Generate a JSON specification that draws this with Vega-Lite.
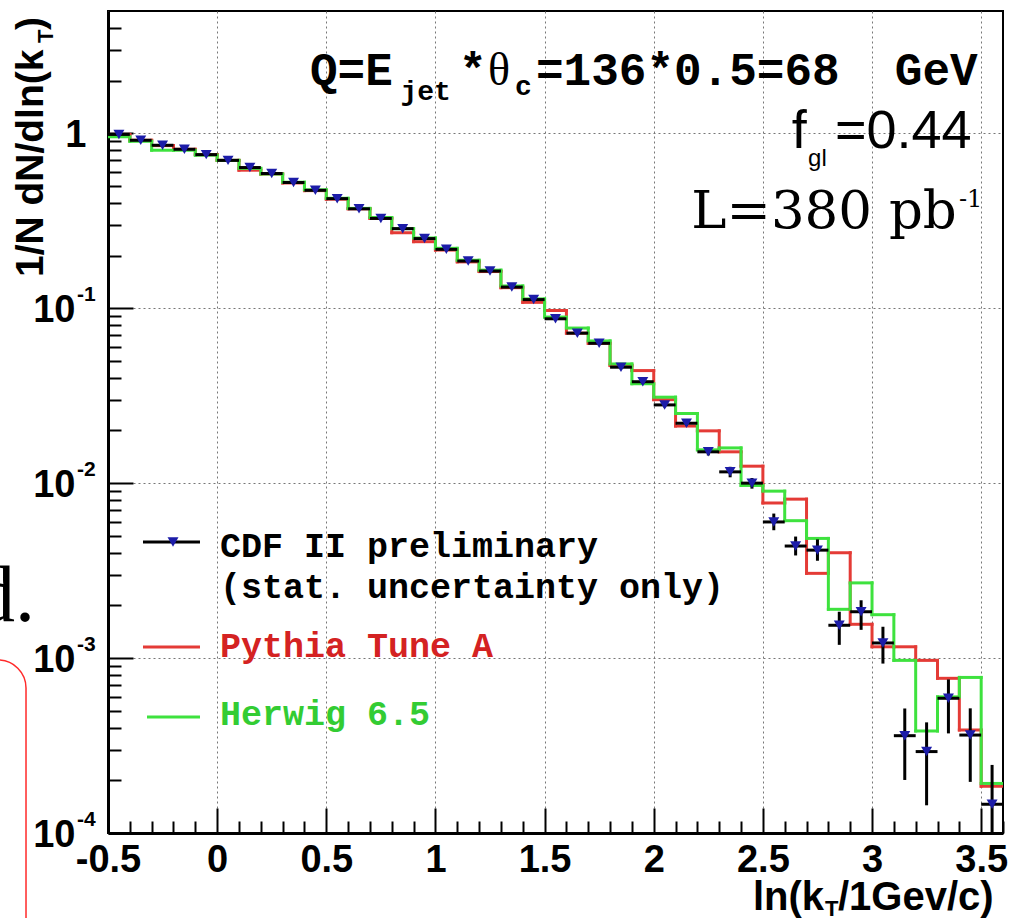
{
  "$schema": "https://vega.github.io/schema/vega-lite/v6.json",
  "width": 895,
  "height": 822,
  "autosize": "none",
  "padding": {"left": 108, "top": 11, "right": 8, "bottom": 85},
  "background": "white",
  "config": {"view": {"stroke": "black", "strokeWidth": 2}},
  "resolve": {"axis": {"x": "independent", "y": "independent"}},
  "data": {"values": [
    {"x":-0.45,"lo":-0.5,"hi":-0.4,"d":0.985,"dlo":0.975,"dhi":0.995,"py":0.985,"hw":0.955},
    {"x":-0.35,"lo":-0.4,"hi":-0.3,"d":0.912,"dlo":0.903,"dhi":0.921,"py":0.912,"hw":0.9},
    {"x":-0.25,"lo":-0.3,"hi":-0.2,"d":0.854,"dlo":0.845,"dhi":0.863,"py":0.85,"hw":0.8},
    {"x":-0.15,"lo":-0.2,"hi":-0.1,"d":0.81,"dlo":0.802,"dhi":0.818,"py":0.81,"hw":0.8},
    {"x":-0.05,"lo":-0.1,"hi":0,"d":0.755,"dlo":0.747,"dhi":0.763,"py":0.755,"hw":0.75},
    {"x":0.05,"lo":0,"hi":0.1,"d":0.7,"dlo":0.693,"dhi":0.707,"py":0.7,"hw":0.7},
    {"x":0.15,"lo":0.1,"hi":0.2,"d":0.637,"dlo":0.63,"dhi":0.644,"py":0.615,"hw":0.63},
    {"x":0.25,"lo":0.2,"hi":0.3,"d":0.589,"dlo":0.583,"dhi":0.595,"py":0.585,"hw":0.585},
    {"x":0.35,"lo":0.3,"hi":0.4,"d":0.523,"dlo":0.517,"dhi":0.529,"py":0.52,"hw":0.525},
    {"x":0.45,"lo":0.4,"hi":0.5,"d":0.472,"dlo":0.467,"dhi":0.477,"py":0.47,"hw":0.475},
    {"x":0.55,"lo":0.5,"hi":0.6,"d":0.423,"dlo":0.418,"dhi":0.428,"py":0.42,"hw":0.425},
    {"x":0.65,"lo":0.6,"hi":0.7,"d":0.37,"dlo":0.366,"dhi":0.374,"py":0.37,"hw":0.372},
    {"x":0.75,"lo":0.7,"hi":0.8,"d":0.326,"dlo":0.322,"dhi":0.33,"py":0.326,"hw":0.33},
    {"x":0.85,"lo":0.8,"hi":0.9,"d":0.285,"dlo":0.281,"dhi":0.289,"py":0.27,"hw":0.285},
    {"x":0.95,"lo":0.9,"hi":1.0,"d":0.25,"dlo":0.246,"dhi":0.254,"py":0.24,"hw":0.252},
    {"x":1.05,"lo":1.0,"hi":1.1,"d":0.217,"dlo":0.213,"dhi":0.221,"py":0.215,"hw":0.22},
    {"x":1.15,"lo":1.1,"hi":1.2,"d":0.186,"dlo":0.183,"dhi":0.189,"py":0.184,"hw":0.188},
    {"x":1.25,"lo":1.2,"hi":1.3,"d":0.163,"dlo":0.16,"dhi":0.166,"py":0.162,"hw":0.165},
    {"x":1.35,"lo":1.3,"hi":1.4,"d":0.132,"dlo":0.13,"dhi":0.134,"py":0.131,"hw":0.134},
    {"x":1.45,"lo":1.4,"hi":1.5,"d":0.112,"dlo":0.11,"dhi":0.114,"py":0.108,"hw":0.113},
    {"x":1.55,"lo":1.5,"hi":1.6,"d":0.087,"dlo":0.085,"dhi":0.089,"py":0.097,"hw":0.089},
    {"x":1.65,"lo":1.6,"hi":1.7,"d":0.072,"dlo":0.0705,"dhi":0.0735,"py":0.072,"hw":0.077},
    {"x":1.75,"lo":1.7,"hi":1.8,"d":0.063,"dlo":0.0615,"dhi":0.0645,"py":0.063,"hw":0.065},
    {"x":1.85,"lo":1.8,"hi":1.9,"d":0.046,"dlo":0.0448,"dhi":0.0472,"py":0.047,"hw":0.048},
    {"x":1.95,"lo":1.9,"hi":2.0,"d":0.038,"dlo":0.0369,"dhi":0.0391,"py":0.044,"hw":0.037},
    {"x":2.05,"lo":2.0,"hi":2.1,"d":0.028,"dlo":0.0271,"dhi":0.0289,"py":0.03,"hw":0.031},
    {"x":2.15,"lo":2.1,"hi":2.2,"d":0.022,"dlo":0.0212,"dhi":0.0228,"py":0.0212,"hw":0.025},
    {"x":2.25,"lo":2.2,"hi":2.3,"d":0.0151,"dlo":0.0144,"dhi":0.0158,"py":0.0199,"hw":0.0155},
    {"x":2.35,"lo":2.3,"hi":2.4,"d":0.0116,"dlo":0.0108,"dhi":0.0124,"py":0.0151,"hw":0.0159},
    {"x":2.45,"lo":2.4,"hi":2.5,"d":0.01,"dlo":0.0093,"dhi":0.0107,"py":0.0125,"hw":0.0097},
    {"x":2.55,"lo":2.5,"hi":2.6,"d":0.006,"dlo":0.00538,"dhi":0.0067,"py":0.0077,"hw":0.009},
    {"x":2.65,"lo":2.6,"hi":2.7,"d":0.00437,"dlo":0.00386,"dhi":0.00495,"py":0.0081,"hw":0.0061},
    {"x":2.75,"lo":2.7,"hi":2.8,"d":0.00414,"dlo":0.0036,"dhi":0.00477,"py":0.00305,"hw":0.00483},
    {"x":2.85,"lo":2.8,"hi":2.9,"d":0.00154,"dlo":0.00119,"dhi":0.00184,"py":0.004,"hw":0.0019},
    {"x":2.95,"lo":2.9,"hi":3.0,"d":0.00184,"dlo":0.00145,"dhi":0.00214,"py":0.00156,"hw":0.00269},
    {"x":3.05,"lo":3.0,"hi":3.1,"d":0.00122,"dlo":0.00093,"dhi":0.00151,"py":0.00116,"hw":0.00177},
    {"x":3.15,"lo":3.1,"hi":3.2,"d":0.00036,"dlo":0.000201,"dhi":0.000515,"py":0.00116,"hw":0.00097},
    {"x":3.25,"lo":3.2,"hi":3.3,"d":0.000292,"dlo":0.000144,"dhi":0.000429,"py":0.00097,"hw":0.000383},
    {"x":3.35,"lo":3.3,"hi":3.4,"d":0.000589,"dlo":0.000371,"dhi":0.000755,"py":0.000766,"hw":0.0006},
    {"x":3.45,"lo":3.4,"hi":3.5,"d":0.000363,"dlo":0.000196,"dhi":0.000516,"py":0.000388,"hw":0.000775},
    {"x":3.55,"lo":3.5,"hi":3.6,"d":0.000146,"dlo":0.00006,"dhi":0.000245,"py":0.000185,"hw":0.000192}
  ]},
  "layer": [
    {
      "mark": {"type": "rule", "color": "#e43b36", "strokeWidth": 3, "strokeCap": "square", "clip": true},
      "encoding": {
        "x": {"field": "lo", "type": "quantitative", "title": null,
          "scale": {"domain": [-0.5, 3.6], "nice": false, "zero": false},
          "axis": {
            "orient": "bottom",
            "values": [-0.5, 0, 0.5, 1, 1.5, 2, 2.5, 3, 3.5],
            "grid": true, "gridDash": [2, 3], "gridColor": "#777", "gridWidth": 1,
            "tickSize": -25, "tickColor": "black", "tickWidth": 2,
            "domainColor": "black", "domainWidth": 3,
            "labelExpr": "replace(format(datum.value, '~g'), '\u2212', '-')",
            "labelFont": "Liberation Sans", "labelFontWeight": "bold", "labelFontSize": 38, "labelColor": "black",
            "labelPadding": 33, "labelFlush": false, "labelOverlap": false, "labelBound": false
          }
        },
        "x2": {"field": "hi"},
        "y": {"field": "py", "type": "quantitative", "title": null,
          "scale": {"type": "log", "domain": [0.0001, 5], "nice": false},
          "axis": {
            "orient": "left",
            "values": [0.0001, 0.001, 0.01, 0.1, 1],
            "grid": true, "gridDash": [2, 3], "gridColor": "#777", "gridWidth": 1,
            "tickSize": -25, "tickColor": "black", "tickWidth": 2,
            "domainColor": "black", "domainWidth": 3,
            "labelExpr": "datum.value > 0.5 ? '1' : '10'",
            "labelFont": "Liberation Sans", "labelFontWeight": "bold", "labelFontSize": 38, "labelColor": "black",
            "labelPadding": {"condition": {"test": "datum.value > 0.5", "value": 47}, "value": 58},
            "labelOffset": 2, "labelBaseline": "middle",
            "labelFlush": false, "labelOverlap": false, "labelBound": false
          }
        }
      }
    },
    {
      "mark": {"type": "rule", "color": "#3ee23e", "strokeWidth": 3, "strokeCap": "square", "clip": true},
      "encoding": {
        "x": {"field": "lo", "type": "quantitative", "title": null,
          "axis": {
            "orient": "bottom",
            "values": [-0.4,-0.3,-0.2,-0.1,0.1,0.2,0.3,0.4,0.6,0.7,0.8,0.9,1.1,1.2,1.3,1.4,1.6,1.7,1.8,1.9,2.1,2.2,2.3,2.4,2.6,2.7,2.8,2.9,3.1,3.2,3.3,3.4,3.6],
            "grid": false, "domain": false, "labels": false,
            "tickSize": -12, "tickColor": "black", "tickWidth": 2
          }
        },
        "x2": {"field": "hi"},
        "y": {"field": "hw", "type": "quantitative", "title": null,
          "axis": {
            "orient": "left",
            "values": [0.0002,0.0003,0.0004,0.0005,0.0006,0.0007,0.0008,0.0009,0.002,0.003,0.004,0.005,0.006,0.007,0.008,0.009,0.02,0.03,0.04,0.05,0.06,0.07,0.08,0.09,0.2,0.3,0.4,0.5,0.6,0.7,0.8,0.9,2,3,4],
            "grid": false, "domain": false, "labels": false,
            "tickSize": -13, "tickColor": "black", "tickWidth": 2
          }
        }
      }
    },
    {
      "transform": [
        {"window": [{"op": "lag", "field": "py", "as": "py_prev"}], "sort": [{"field": "lo", "order": "ascending"}]},
        {"filter": "datum.py_prev != null"}
      ],
      "mark": {"type": "rule", "color": "#e43b36", "strokeWidth": 3, "strokeCap": "square", "clip": true},
      "encoding": {
        "x": {"field": "lo", "type": "quantitative", "axis": null},
        "y": {"field": "py", "type": "quantitative", "axis": null},
        "y2": {"field": "py_prev"}
      }
    },
    {
      "transform": [
        {"window": [{"op": "lag", "field": "hw", "as": "hw_prev"}], "sort": [{"field": "lo", "order": "ascending"}]},
        {"filter": "datum.hw_prev != null"}
      ],
      "mark": {"type": "rule", "color": "#3ee23e", "strokeWidth": 3, "strokeCap": "square", "clip": true},
      "encoding": {
        "x": {"field": "lo", "type": "quantitative", "axis": null},
        "y": {"field": "hw", "type": "quantitative", "axis": null},
        "y2": {"field": "hw_prev"}
      }
    },
    {
      "mark": {"type": "rule", "color": "black", "strokeWidth": 3, "clip": true},
      "encoding": {
        "x": {"field": "lo", "type": "quantitative", "axis": null},
        "x2": {"field": "hi"},
        "y": {"field": "d", "type": "quantitative", "axis": null}
      }
    },
    {
      "mark": {"type": "rule", "color": "black", "strokeWidth": 3, "clip": true},
      "encoding": {
        "x": {"field": "x", "type": "quantitative", "axis": null},
        "y": {"field": "dlo", "type": "quantitative", "axis": null},
        "y2": {"field": "dhi"}
      }
    },
    {
      "mark": {"type": "point", "shape": "triangle-down", "filled": true, "color": "#1c1ca8", "size": 120, "opacity": 1, "clip": true},
      "encoding": {
        "x": {"field": "x", "type": "quantitative", "axis": null},
        "y": {"field": "d", "type": "quantitative", "axis": null}
      }
    },
    {
      "data": {"values": [{}]},
      "mark": {"type": "text", "font": "Liberation Mono", "fontWeight": "bold", "fontSize": 46, "align": "left", "baseline": "alphabetic", "color": "black"},
      "encoding": {"x": {"datum": 0.4253, "axis": null}, "y": {"datum": 1.888, "axis": null}, "text": {"value": "Q=E"}}
    },
    {
      "data": {"values": [{}]},
      "mark": {"type": "text", "font": "Liberation Mono", "fontWeight": "bold", "fontSize": 28, "align": "left", "baseline": "alphabetic", "color": "black"},
      "encoding": {"x": {"datum": 0.8400, "axis": null}, "y": {"datum": 1.549, "axis": null}, "text": {"value": "jet"}}
    },
    {
      "data": {"values": [{}]},
      "mark": {"type": "text", "font": "Liberation Mono", "fontWeight": "bold", "fontSize": 46, "align": "left", "baseline": "alphabetic", "color": "black"},
      "encoding": {"x": {"datum": 1.108, "axis": null}, "y": {"datum": 1.888, "axis": null}, "text": {"value": "*"}}
    },
    {
      "data": {"values": [{}]},
      "mark": {"type": "text", "font": "Liberation Serif", "fontSize": 46, "align": "left", "baseline": "alphabetic", "color": "black"},
      "encoding": {"x": {"datum": 1.2407, "axis": null}, "y": {"datum": 1.888, "axis": null}, "text": {"value": "θ"}}
    },
    {
      "data": {"values": [{}]},
      "mark": {"type": "text", "font": "Liberation Mono", "fontWeight": "bold", "fontSize": 28, "align": "left", "baseline": "alphabetic", "color": "black"},
      "encoding": {"x": {"datum": 1.3644, "axis": null}, "y": {"datum": 1.655, "axis": null}, "text": {"value": "c"}}
    },
    {
      "data": {"values": [{}]},
      "mark": {"type": "text", "font": "Liberation Mono", "fontWeight": "bold", "fontSize": 46, "align": "left", "baseline": "alphabetic", "color": "black"},
      "encoding": {"x": {"datum": 1.4606, "axis": null}, "y": {"datum": 1.888, "axis": null}, "text": {"value": "=136*0.5=68\u00a0\u00a0GeV"}}
    },
    {
      "data": {"values": [{}]},
      "mark": {"type": "text", "font": "Liberation Sans", "fontSize": 54, "align": "left", "baseline": "alphabetic", "color": "black"},
      "encoding": {"x": {"datum": 2.632, "axis": null}, "y": {"datum": 0.824, "axis": null}, "text": {"value": "f"}}
    },
    {
      "data": {"values": [{}]},
      "mark": {"type": "text", "font": "Liberation Sans", "fontSize": 24, "align": "left", "baseline": "alphabetic", "color": "black"},
      "encoding": {"x": {"datum": 2.707, "axis": null}, "y": {"datum": 0.65, "axis": null}, "text": {"value": "gl"}}
    },
    {
      "data": {"values": [{}]},
      "mark": {"type": "text", "font": "Liberation Sans", "fontSize": 54, "align": "left", "baseline": "alphabetic", "color": "black"},
      "encoding": {"x": {"datum": 2.830, "axis": null}, "y": {"datum": 0.824, "axis": null}, "text": {"value": "=0.44"}}
    },
    {
      "data": {"values": [{}]},
      "mark": {"type": "text", "font": "DejaVu Serif", "fontSize": 53, "align": "left", "baseline": "alphabetic", "color": "black"},
      "encoding": {"x": {"datum": 2.172, "axis": null}, "y": {"datum": 0.2874, "axis": null}, "text": {"value": "L=380 pb"}}
    },
    {
      "data": {"values": [{}]},
      "mark": {"type": "text", "font": "DejaVu Serif", "fontSize": 24, "align": "left", "baseline": "alphabetic", "color": "black"},
      "encoding": {"x": {"datum": 3.398, "axis": null}, "y": {"datum": 0.379, "axis": null}, "text": {"value": "-1"}}
    },
    {
      "data": {"values": [{}]},
      "mark": {"type": "text", "font": "Liberation Sans", "fontWeight": "bold", "fontSize": 21, "align": "left", "baseline": "alphabetic", "color": "black"},
      "encoding": {"x": {"datum": -0.642, "axis": null}, "y": {"datum": 0.1096, "axis": null}, "text": {"value": "-1"}}
    },
    {
      "data": {"values": [{}]},
      "mark": {"type": "text", "font": "Liberation Sans", "fontWeight": "bold", "fontSize": 21, "align": "left", "baseline": "alphabetic", "color": "black"},
      "encoding": {"x": {"datum": -0.642, "axis": null}, "y": {"datum": 0.01096, "axis": null}, "text": {"value": "-2"}}
    },
    {
      "data": {"values": [{}]},
      "mark": {"type": "text", "font": "Liberation Sans", "fontWeight": "bold", "fontSize": 21, "align": "left", "baseline": "alphabetic", "color": "black"},
      "encoding": {"x": {"datum": -0.642, "axis": null}, "y": {"datum": 0.001096, "axis": null}, "text": {"value": "-3"}}
    },
    {
      "data": {"values": [{}]},
      "mark": {"type": "text", "font": "Liberation Sans", "fontWeight": "bold", "fontSize": 21, "align": "left", "baseline": "alphabetic", "color": "black"},
      "encoding": {"x": {"datum": -0.642, "axis": null}, "y": {"datum": 0.0001096, "axis": null}, "text": {"value": "-4"}}
    },
    {
      "data": {"values": [{}]},
      "mark": {"type": "text", "font": "Liberation Sans", "fontWeight": "bold", "fontSize": 39, "angle": 270, "align": "left", "baseline": "alphabetic", "color": "black"},
      "encoding": {"x": {"datum": -0.7978, "axis": null}, "y": {"datum": 0.1507, "axis": null}, "text": {"value": "1/N dN/dln(k"}}
    },
    {
      "data": {"values": [{}]},
      "mark": {"type": "text", "font": "Liberation Sans", "fontWeight": "bold", "fontSize": 22, "angle": 270, "align": "left", "baseline": "alphabetic", "color": "black"},
      "encoding": {"x": {"datum": -0.752, "axis": null}, "y": {"datum": 3.28, "axis": null}, "text": {"value": "T"}}
    },
    {
      "data": {"values": [{}]},
      "mark": {"type": "text", "font": "Liberation Sans", "fontWeight": "bold", "fontSize": 39, "angle": 270, "align": "left", "baseline": "alphabetic", "color": "black"},
      "encoding": {"x": {"datum": -0.7978, "axis": null}, "y": {"datum": 3.89, "axis": null}, "text": {"value": ")"}}
    },
    {
      "data": {"values": [{}]},
      "mark": {"type": "text", "font": "Liberation Sans", "fontWeight": "bold", "fontSize": 40, "align": "left", "baseline": "alphabetic", "color": "black"},
      "encoding": {"x": {"datum": 2.4547, "axis": null}, "y": {"datum": 0.0000362, "axis": null}, "text": {"value": "ln(k"}}
    },
    {
      "data": {"values": [{}]},
      "mark": {"type": "text", "font": "Liberation Sans", "fontWeight": "bold", "fontSize": 22, "align": "left", "baseline": "alphabetic", "color": "black"},
      "encoding": {"x": {"datum": 2.7845, "axis": null}, "y": {"datum": 0.0000335, "axis": null}, "text": {"value": "T"}}
    },
    {
      "data": {"values": [{}]},
      "mark": {"type": "text", "font": "Liberation Sans", "fontWeight": "bold", "fontSize": 40, "align": "left", "baseline": "alphabetic", "color": "black"},
      "encoding": {"x": {"datum": 2.844, "axis": null}, "y": {"datum": 0.0000362, "axis": null}, "text": {"value": "/1Gev/c)"}}
    },
    {
      "data": {"values": [{}]},
      "mark": {"type": "rule", "color": "black", "strokeWidth": 3},
      "encoding": {"x": {"datum": -0.3397, "axis": null}, "x2": {"datum": -0.0786}, "y": {"datum": 0.004608, "axis": null}}
    },
    {
      "data": {"values": [{}]},
      "mark": {"type": "point", "shape": "triangle-down", "filled": true, "color": "#1c1ca8", "size": 120, "opacity": 1},
      "encoding": {"x": {"datum": -0.2022, "axis": null}, "y": {"datum": 0.004608, "axis": null}}
    },
    {
      "data": {"values": [{}]},
      "mark": {"type": "text", "font": "Liberation Mono", "fontWeight": "bold", "fontSize": 35, "align": "left", "baseline": "alphabetic", "color": "black"},
      "encoding": {"x": {"datum": 0.0131, "axis": null}, "y": {"datum": 0.003783, "axis": null}, "text": {"value": "CDF II preliminary"}}
    },
    {
      "data": {"values": [{}]},
      "mark": {"type": "text", "font": "Liberation Mono", "fontWeight": "bold", "fontSize": 35, "align": "left", "baseline": "alphabetic", "color": "black"},
      "encoding": {"x": {"datum": 0.0131, "axis": null}, "y": {"datum": 0.002205, "axis": null}, "text": {"value": "(stat. uncertainty only)"}}
    },
    {
      "data": {"values": [{}]},
      "mark": {"type": "rule", "color": "#e43b36", "strokeWidth": 3},
      "encoding": {"x": {"datum": -0.3397, "axis": null}, "x2": {"datum": -0.0786}, "y": {"datum": 0.001157, "axis": null}}
    },
    {
      "data": {"values": [{}]},
      "mark": {"type": "text", "font": "Liberation Mono", "fontWeight": "bold", "fontSize": 35, "align": "left", "baseline": "alphabetic", "color": "#d42222"},
      "encoding": {"x": {"datum": 0.0131, "axis": null}, "y": {"datum": 0.001014, "axis": null}, "text": {"value": "Pythia Tune A"}}
    },
    {
      "data": {"values": [{}]},
      "mark": {"type": "rule", "color": "#3ee23e", "strokeWidth": 3},
      "encoding": {"x": {"datum": -0.3213, "axis": null}, "x2": {"datum": -0.0786}, "y": {"datum": 0.0004604, "axis": null}}
    },
    {
      "data": {"values": [{}]},
      "mark": {"type": "text", "font": "Liberation Mono", "fontWeight": "bold", "fontSize": 35, "align": "left", "baseline": "alphabetic", "color": "#33cc33"},
      "encoding": {"x": {"datum": 0.0131, "axis": null}, "y": {"datum": 0.0004143, "axis": null}, "text": {"value": "Herwig 6.5"}}
    },
    {
      "data": {"values": [{}]},
      "mark": {"type": "text", "font": "Liberation Serif", "fontSize": 80, "align": "right", "baseline": "alphabetic", "color": "black"},
      "encoding": {"x": {"datum": -0.8344, "axis": null}, "y": {"datum": 0.00162, "axis": null}, "text": {"value": "d."}}
    },
    {
      "data": {"values": [{}]},
      "mark": {"type": "rect", "fill": null, "stroke": "#ff2a2a", "strokeWidth": 1.5, "cornerRadius": 28},
      "encoding": {"x": {"datum": -1.5, "axis": null}, "x2": {"datum": -0.8756}, "y": {"datum": 0.000975, "axis": null}, "y2": {"datum": 0.00001}}
    }
  ]
}
